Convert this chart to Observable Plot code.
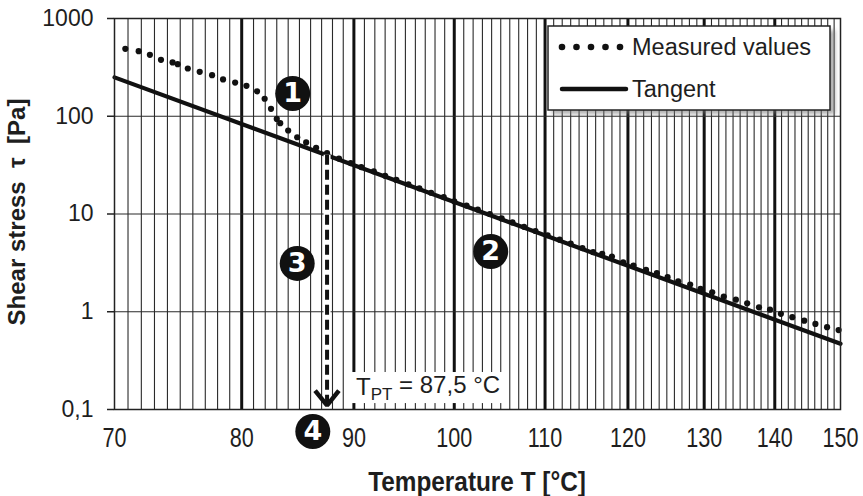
<!DOCTYPE html>
<html>
<head>
<meta charset="utf-8">
<script src="https://cdn.jsdelivr.net/npm/d3@7"></script>
<script src="https://cdn.jsdelivr.net/npm/@observablehq/plot@0.6"></script>
<style>
  html, body { margin: 0; padding: 0; background: #fff; }
  #chart svg { display: block; }
</style>
</head>
<body>
<div id="chart"></div>
<script>
// ---- Data ----
const measT = [70.8, 71.8, 72.65, 73.5, 74.4, 74.8, 75.6, 76.55, 77.55, 78.45, 79.45, 80.4, 81.3, 81.95, 82.5, 83.0, 83.3, 84.0, 84.8, 85.6, 86.5, 87.5,
  88.6, 89.7, 90.7, 91.9, 93.0, 94.1, 95.3, 96.4, 97.6, 98.9, 100.0, 101.3, 102.5, 103.8, 105.1, 106.3, 107.6, 108.9, 110.3, 111.7, 113.0, 114.4, 115.7,
  116.8, 118.0, 119.4, 120.7, 122.3, 123.7, 125.1, 126.5, 128.1, 129.5, 131.1, 132.7, 134.4, 136.0, 137.7, 139.3, 140.9, 142.6, 144.4, 146.1, 147.9, 149.7];
const measV = [490, 463, 425, 378, 355, 341, 308, 285, 263, 238, 221, 205, 180, 151, 119, 94, 85, 71.5, 61, 54, 47.5, 41.9,
  36.9, 33.2, 30.2, 27.3, 24.6, 22.3, 20.1, 18.3, 16.5, 14.9, 13.5, 12.2, 11.1, 10.0, 9.0, 8.2, 7.4, 6.7, 6.06, 5.46, 4.97, 4.48, 4.07,
  3.92, 3.67, 3.21, 2.97, 2.69, 2.48, 2.26, 2.05, 1.90, 1.72, 1.58, 1.43, 1.33, 1.22, 1.11, 1.05, 0.953, 0.88, 0.81, 0.75, 0.695, 0.65];
const tangentT = [70, 150];
const tangentV = [250, 0.47];
const tPT = 87.5;          // transition temperature
const tPTStress = 39.8;    // stress on the tangent at T_PT
const arrowEndV = 0.11;    // arrow tip level
const xTicks = [70, 80, 90, 100, 110, 120, 130, 140, 150];
const xMajorGrid = [80, 90, 100, 110, 120, 130, 140];
const yTicks = [0.1, 1, 10, 100, 1000];
const yTickLabels = ["0,1", "1", "10", "100", "1000"];
const badgeNum = ["1", "2", "3", "4"];
const badgeT = [84.4, 103.9, 84.8, 86.2];
const badgeV = [171, 4.13, 3.12, 0.0596];
const labelText = "T_PT = 87,5 °C";
const labelBoxT = [89.6, 105.8];
const labelBoxV = [0.115, 0.239];
const labelT = 90.2, labelV = 0.168;
const legendLabels = ["Measured values", "Tangent"];
const xTitle = "Temperature T [°C]";
const yTitle = "Shear stress  τ  [Pa]";

const measured = measT.map((t, i) => ({t, v: measV[i]}));
const tangent = tangentT.map((t, i) => ({t, v: tangentV[i]}));
const badges = badgeNum.map((n, i) => ({n, t: badgeT[i], v: badgeV[i]}));
const minorGrid = d3.range(71, 150).filter(d => d % 10 !== 0);
const arrowHead = [
  {t: tPT * 0.9875, v: arrowEndV * 1.42},
  {t: tPT, v: arrowEndV},
  {t: tPT * 1.0125, v: arrowEndV * 1.42}
];

const W = 863, H = 496;
const ink = "#1e1e1e";
const sans = "'Liberation Sans', Arial, sans-serif";

const plot = Plot.plot({
  width: W, height: H,
  marginLeft: 114, marginRight: 23, marginTop: 18, marginBottom: 87,
  style: {fontFamily: sans, fontSize: "23px", color: ink, background: "#fff"},
  x: {type: "log", domain: [70, 150]},
  y: {type: "log", domain: [0.1, 1000]},
  marks: [
    Plot.ruleX(minorGrid, {stroke: "#2a2a2a", strokeWidth: 1.1}),
    Plot.ruleX(xMajorGrid, {stroke: "#111", strokeWidth: 3}),
    Plot.ruleY(yTicks, {stroke: "#2a2a2a", strokeWidth: 1.2}),
    Plot.line(tangent, {x: "t", y: "v", stroke: "#111", strokeWidth: 4.2}),
    Plot.dot(measured, {x: "t", y: "v", r: 3.1, fill: "#111", stroke: "none"}),
    // dashed arrow
    Plot.ruleX([tPT], {y1: tPTStress, y2: arrowEndV, stroke: "white", strokeWidth: 7}),
    Plot.ruleX([tPT], {y1: tPTStress, y2: arrowEndV * 1.02, stroke: "#111", strokeWidth: 4, strokeDasharray: "10,5"}),
    Plot.line(arrowHead, {x: "t", y: "v", stroke: "#111", strokeWidth: 4.5, strokeLinejoin: "miter", strokeLinecap: "butt"}),
    // label box
    Plot.rect([0], {x1: labelBoxT[0], x2: labelBoxT[1], y1: labelBoxV[0], y2: labelBoxV[1], fill: "white"}),
    Plot.text([labelText], {x: labelT, y: labelV, text: d => d, textAnchor: "start", fontSize: 24, fill: ink, className: "tpt"}),
    Plot.frame({stroke: "#222", strokeWidth: 1.5}),
    // badges
    Plot.dot(badges, {x: "t", y: "v", r: 17.5, fill: "#111", stroke: "none"}),
    Plot.text(badges, {x: "t", y: "v", text: "n", fill: "white", fontWeight: "bold", fontSize: 27, fontFamily: "'DejaVu Sans', sans-serif"}),
    // axes
    Plot.axisY({ticks: yTicks, tickFormat: (d) => yTickLabels[yTicks.indexOf(d)], tickSize: 7, tickPadding: 14, label: null, fontSize: 23, stroke: "#222", strokeWidth: 1.5}),
    Plot.axisX({ticks: xTicks, tickFormat: d => String(d), tickSize: 0, tickPadding: 18, label: null, fontSize: 27, className: "xlab"}),
  ]
});

document.getElementById("chart").appendChild(plot);
const svg = d3.select(plot);

// condense x tick labels (narrow face as in the original)
svg.selectAll(".xlab text").each(function() {
  const tr = this.getAttribute("transform");
  if (tr) {
    this.setAttribute("transform", tr + " scale(0.8,1)");
  } else {
    const w = this.getComputedTextLength();
    d3.select(this).attr("textLength", w * 0.8).attr("lengthAdjust", "spacingAndGlyphs");
  }
});

// subscript in T_PT label
svg.selectAll(".tpt text").each(function() {
  const t = d3.select(this);
  t.text(null);
  t.append("tspan").text("T");
  t.append("tspan").attr("dy", "0.3em").attr("font-size", 17).text("PT");
  t.append("tspan").attr("dy", "-0.3em").text(" = 87,5 °C");
});

// y-axis title
svg.append("text")
  .attr("transform", "translate(16,212) rotate(-90)")
  .attr("text-anchor", "middle").attr("dominant-baseline", "central")
  .attr("font-family", sans)
  .attr("font-weight", "bold").attr("font-size", 24).attr("fill", ink)
  .attr("xml:space", "preserve")
  .text(yTitle);

// x-axis title (condensed)
svg.append("text")
  .attr("transform", "translate(477,481) scale(0.87,1)")
  .attr("text-anchor", "middle").attr("dominant-baseline", "central")
  .attr("font-family", sans)
  .attr("font-weight", "bold").attr("font-size", 28).attr("fill", ink)
  .text(xTitle);

// legend
const defs = svg.append("defs");
defs.append("filter").attr("id", "lgshadow").attr("x", "-10%").attr("y", "-10%").attr("width", "130%").attr("height", "130%")
  .append("feGaussianBlur").attr("stdDeviation", 2);
const lg = svg.append("g").attr("text-anchor", "start");
lg.append("rect").attr("x", 552).attr("y", 30).attr("width", 283).attr("height", 84)
  .attr("fill", "#777").attr("opacity", 0.6).attr("filter", "url(#lgshadow)");
lg.append("rect").attr("x", 548).attr("y", 26).attr("width", 282).attr("height", 84)
  .attr("fill", "white").attr("stroke", "#222").attr("stroke-width", 1.5);
[562, 576.5, 591, 605.5, 620].forEach(cx => lg.append("circle").attr("cx", cx).attr("cy", 47).attr("r", 3.3).attr("fill", "#111"));
lg.append("line").attr("x1", 562).attr("x2", 626).attr("y1", 89).attr("y2", 89)
  .attr("stroke", "#111").attr("stroke-width", 4.5).attr("stroke-linecap", "round");
lg.append("text").attr("x", 632).attr("y", 47).attr("dominant-baseline", "central").attr("text-anchor", "start")
  .attr("font-family", sans).attr("font-size", 23.5).attr("fill", ink).text(legendLabels[0]);
lg.append("text").attr("x", 632).attr("y", 89).attr("dominant-baseline", "central").attr("text-anchor", "start")
  .attr("font-family", sans).attr("font-size", 23.5).attr("fill", ink).text(legendLabels[1]);
</script>
</body>
</html>
